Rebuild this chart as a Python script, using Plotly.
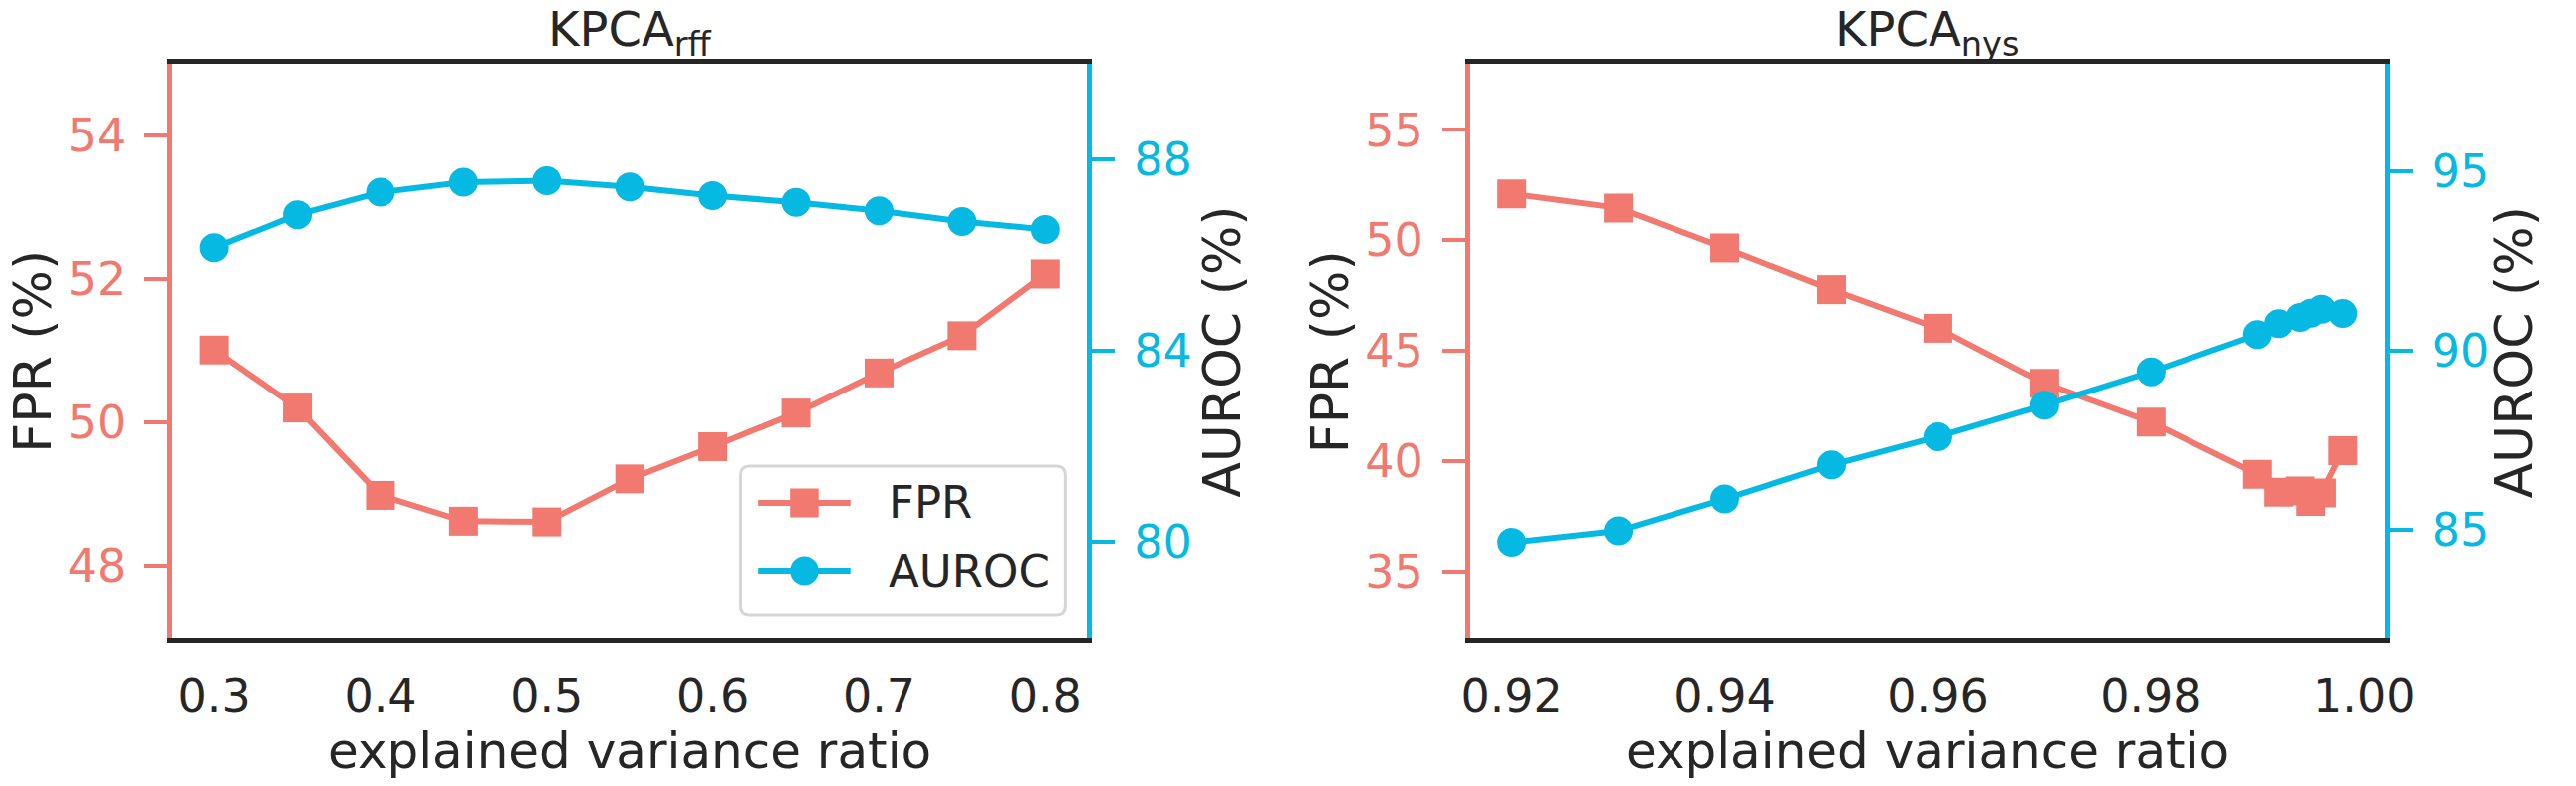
import plotly.graph_objects as go

# ---------------- data ----------------
x_rff = [0.30, 0.35, 0.40, 0.45, 0.50, 0.55, 0.60, 0.65, 0.70, 0.75, 0.80]
fpr_rff = [51.01, 50.20, 48.98, 48.62, 48.61, 49.21, 49.66, 50.13, 50.69, 51.21, 52.07]
auroc_rff = [86.15, 86.84, 87.31, 87.52, 87.55, 87.42, 87.24, 87.10, 86.92, 86.70, 86.53]

x_nys = [0.92, 0.93, 0.94, 0.95, 0.96, 0.97, 0.98, 0.99, 0.992, 0.994, 0.995, 0.996, 0.998]
fpr_nys = [52.10, 51.46, 49.65, 47.77, 46.02, 43.52, 41.76, 39.39, 38.58, 38.63, 38.16, 38.55, 40.46]
auroc_nys = [84.65, 84.97, 85.86, 86.81, 87.60, 88.48, 89.41, 90.45, 90.76, 90.93, 91.05, 91.16, 91.04]

xticks_rff = [0.3, 0.4, 0.5, 0.6, 0.7, 0.8]
xticks_nys = [0.92, 0.94, 0.96, 0.98, 1.00]
fpr_ticks_rff = [48, 50, 52, 54]
auroc_ticks_rff = [80, 84, 88]
fpr_ticks_nys = [35, 40, 45, 50, 55]
auroc_ticks_nys = [85, 90, 95]

titles = ["KPCA<sub>rff</sub>", "KPCA<sub>nys</sub>"]
xlabel = "explained variance ratio"
ylabel_left = "FPR (%)"
ylabel_right = "AUROC (%)"
series_names = ["FPR", "AUROC"]

# ---------------- style ----------------
W, H = 2586, 789
FPR_C = "#F27970"
AUC_C = "#05B9E2"
TXT = "#262626"
FONT = "DejaVu Sans"
LW = 6
MS = 29

def fx(p):
    return p / W

def fy(p):
    return 1 - p / H

dom1 = [fx(167), fx(1099)]
dom2 = [fx(1490), fx(2422)]
ydom = [fy(640), fy(64)]

fig = go.Figure()

fig.add_trace(go.Scatter(x=x_rff, y=fpr_rff, name=series_names[0], mode="lines+markers",
                         line=dict(color=FPR_C, width=LW),
                         marker=dict(symbol="square", size=MS, color=FPR_C),
                         xaxis="x", yaxis="y"))
fig.add_trace(go.Scatter(x=x_rff, y=auroc_rff, name=series_names[1], mode="lines+markers",
                         line=dict(color=AUC_C, width=LW),
                         marker=dict(symbol="circle", size=MS, color=AUC_C),
                         xaxis="x", yaxis="y2"))
fig.add_trace(go.Scatter(x=x_nys, y=fpr_nys, name=series_names[0], mode="lines+markers",
                         line=dict(color=FPR_C, width=LW),
                         marker=dict(symbol="square", size=MS, color=FPR_C),
                         xaxis="x2", yaxis="y3"))
fig.add_trace(go.Scatter(x=x_nys, y=auroc_nys, name=series_names[1], mode="lines+markers",
                         line=dict(color=AUC_C, width=LW),
                         marker=dict(symbol="circle", size=MS, color=AUC_C),
                         xaxis="x2", yaxis="y4"))

def xax(domain, rng, ticks, anchor, fmt=None):
    d = dict(domain=domain, range=rng, anchor=anchor, showline=True, linecolor=TXT,
             linewidth=5, mirror=True, ticks="", tickvals=ticks, showgrid=False,
             zeroline=False, tickfont=dict(family=FONT, size=46, color=TXT),
             ticklabelstandoff=15)
    if fmt:
        d["tickformat"] = fmt
    return d

def yax(rng, ticks, color, anchor, side="left", overlaying=None):
    d = dict(domain=ydom, range=rng, anchor=anchor, side=side, showline=True,
             linecolor=color, linewidth=5, ticks="outside", ticklen=23, tickwidth=4,
             tickcolor=color, tickvals=ticks, showgrid=False, zeroline=False,
             tickfont=dict(family=FONT, size=46, color=color), ticklabelstandoff=10)
    if overlaying:
        d["overlaying"] = overlaying
    return d

fig.update_layout(
    width=W, height=H,
    margin=dict(l=0, r=0, t=0, b=0),
    paper_bgcolor="white", plot_bgcolor="white",
    font=dict(family=FONT, color=TXT),
    xaxis=xax(dom1, [0.275, 0.825], xticks_rff, "y"),
    yaxis=yax([47, 55], fpr_ticks_rff, FPR_C, "x"),
    yaxis2=yax([78, 90], auroc_ticks_rff, AUC_C, "x", side="right", overlaying="y"),
    xaxis2=xax(dom2, [0.9161, 1.0019], xticks_nys, "y3", fmt=".2f"),
    yaxis3=yax([32, 58], fpr_ticks_nys, FPR_C, "x2"),
    yaxis4=yax([82, 98], auroc_ticks_nys, AUC_C, "x2", side="right", overlaying="y3"),
    showlegend=False,
)

# ---------------- text ----------------
ann = []
centers = [(167 + 1099) / 2, (1490 + 2422) / 2]
for c, t in zip(centers, titles):
    ann.append(dict(text=t, x=fx(c), y=1, xref="paper", yref="paper",
                    xanchor="center", yanchor="top", showarrow=False, borderpad=0,
                    font=dict(family=FONT, size=48, color=TXT)))
    ann.append(dict(text=xlabel, x=fx(c), y=fy(754), xref="paper", yref="paper",
                    xanchor="center", yanchor="middle", showarrow=False, borderpad=0,
                    font=dict(family=FONT, size=50, color=TXT)))
for xc, t in [(24, ylabel_left), (1237, ylabel_right), (1347, ylabel_left), (2555, ylabel_right)]:
    ann.append(dict(text=t, x=fx(xc), y=fy(353), xref="paper", yref="paper",
                    xanchor="center", yanchor="middle", textangle=-90, showarrow=False,
                    borderpad=0, font=dict(family=FONT, size=52, color=TXT)))

# ---------------- legend (drawn in the left panel, lower right) ----------------
shapes = []
L, R, T, B, rad = 746, 1077, 468, 617, 9
box = (f"M {fx(L+rad)},{fy(T)} L {fx(R-rad)},{fy(T)} Q {fx(R)},{fy(T)} {fx(R)},{fy(T+rad)} "
       f"L {fx(R)},{fy(B-rad)} Q {fx(R)},{fy(B)} {fx(R-rad)},{fy(B)} "
       f"L {fx(L+rad)},{fy(B)} Q {fx(L)},{fy(B)} {fx(L)},{fy(B-rad)} "
       f"L {fx(L)},{fy(T+rad)} Q {fx(L)},{fy(T)} {fx(L+rad)},{fy(T)} Z")
shapes.append(dict(type="path", path=box, xref="paper", yref="paper", layer="above",
                   fillcolor="rgba(255,255,255,0.85)", line=dict(color="#d6d6d6", width=3)))
entries = [(505, FPR_C, "square", series_names[0]), (573, AUC_C, "circle", series_names[1])]
for yy, col, sym, name in entries:
    shapes.append(dict(type="line", x0=fx(764), x1=fx(858), y0=fy(yy), y1=fy(yy),
                       xref="paper", yref="paper", layer="above",
                       line=dict(color=col, width=LW)))
    h = MS / 2
    shapes.append(dict(type="rect" if sym == "square" else "circle",
                       x0=fx(811 - h), x1=fx(811 + h), y0=fy(yy + h), y1=fy(yy - h),
                       xref="paper", yref="paper", layer="above",
                       fillcolor=col, line=dict(width=0)))
    ann.append(dict(text=name, x=fx(895), y=fy(yy), xref="paper", yref="paper",
                    xanchor="left", yanchor="middle", showarrow=False,
                    font=dict(family=FONT, size=45, color=TXT)))

fig.update_layout(annotations=ann, shapes=shapes)

fig.write_html("out.html", config={"displayModeBar": False})
